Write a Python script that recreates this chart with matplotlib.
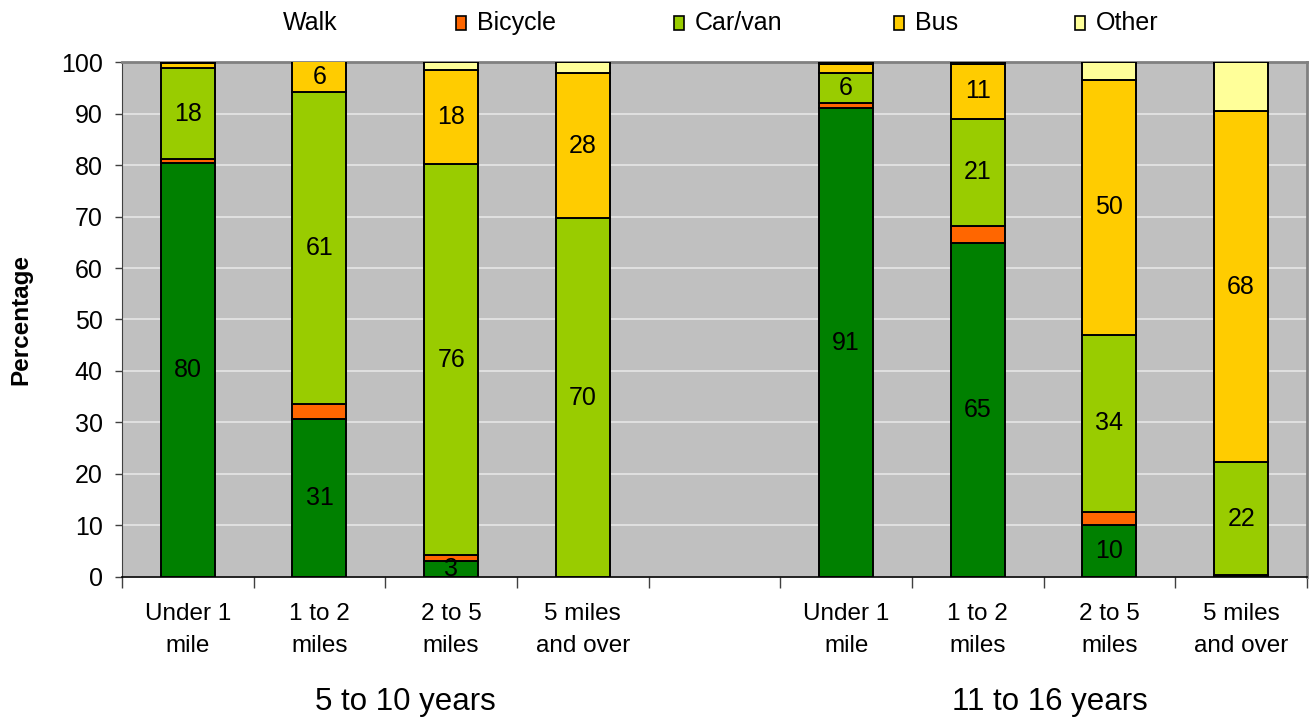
import matplotlib
matplotlib.use("Agg")
import matplotlib.pyplot as plt
import numpy as np
from matplotlib.patches import Rectangle

plt.rcParams['font.family'] = ['Liberation Sans', 'DejaVu Sans']

categories = ["Under 1\nmile", "1 to 2\nmiles", "2 to 5\nmiles", "5 miles\nand over"]
groups = ["5 to 10 years", "11 to 16 years"]
series = ["Walk", "Bicycle", "Car/van", "Bus", "Other"]
colors = ["#008000", "#FF6600", "#99CC00", "#FFCC00", "#FFFF99"]

# values per series, 5-10 years (4 bars) then 11-16 years (4 bars)
walk    = [80.3, 30.7, 3.1, 0.0,   91.0, 64.8, 10.0, 0.4]
bicycle = [0.8, 2.8, 1.1, 0.0,     1.0, 3.4, 2.7, 0.0]
carvan  = [17.7, 60.6, 76.0, 69.7, 5.8, 20.7, 34.3, 21.9]
bus     = [1.0, 6.1, 18.3, 28.1,   1.8, 10.8, 49.6, 68.1]
other   = [0.2, 0.0, 1.5, 2.2,     0.4, 0.3, 3.4, 9.6]
data = [walk, bicycle, carvan, bus, other]
labelled = {"Walk", "Car/van", "Bus"}

fig = plt.figure(figsize=(13.13, 7.17), dpi=100)
ax = fig.add_axes([0.0929, 0.1953, 0.9025, 0.7182])
ax.set_facecolor("#C0C0C0")
ax.set_axisbelow(True)
ax.yaxis.grid(True, color="#E6E6E6", linewidth=1.2)

positions = [0, 1, 2, 3, 5, 6, 7, 8]
width = 0.41
bottom = np.zeros(len(positions))
for name, vals, col in zip(series, data, colors):
    vals = np.array(vals)
    ax.bar(positions, vals, width, bottom=bottom, color=col,
           edgecolor="black", linewidth=1.4, zorder=3)
    if name in labelled:
        for x, v, b in zip(positions, vals, bottom):
            if v >= 2.5:
                ax.text(x, b + v / 2, f"{v:.0f}", ha="center", va="center",
                        fontsize=18, color="black", zorder=4)
    bottom += vals

ax.set_xlim(-0.5, 8.5)
ax.set_ylim(0, 100)
ax.set_yticks(np.arange(0, 101, 10))
ax.tick_params(axis="y", labelsize=18, length=5, width=1, color="#404040", pad=9)
ax.set_xticks(np.arange(-0.5, 8.6, 1))
ax.set_xticklabels([])
ax.tick_params(axis="x", length=8, width=1, color="#404040")
ax.set_ylabel("Percentage", fontsize=17.5, fontweight="bold")
ax.yaxis.set_label_coords(-0.076, 0.5)

for s in ["top", "right"]:
    ax.spines[s].set_color("#808080")
    ax.spines[s].set_linewidth(2)
ax.spines["left"].set_color("#404040")
ax.spines["bottom"].set_color("black")
ax.spines["bottom"].set_linewidth(1.2)

tick_names = categories + categories
for x, lab in zip(positions, tick_names):
    ax.text(x, -5.0, lab, ha="center", va="top", fontsize=17.5,
            linespacing=1.6, transform=ax.transData)
ax.text(1.65, -21.3, groups[0], ha="center", va="top", fontsize=22.5)
ax.text(6.55, -21.3, groups[1], ha="center", va="top", fontsize=22.5)

# legend (manual, to follow the reference's positions)
W, H = 1313.0, 717.0
swatch_x = [262, 456, 674, 894, 1075]
for name, col, sx in zip(series, colors, swatch_x):
    if name != "Walk":
        fig.patches.append(Rectangle((sx / W, (H - 30) / H), 10 / W, 14 / H,
                                     facecolor=col, edgecolor="black", linewidth=1.2,
                                     transform=fig.transFigure, figure=fig))
    fig.text((sx + 21) / W, (H - 23) / H, name, ha="left", va="center", fontsize=18)

fig.savefig("out.png", dpi=100)
